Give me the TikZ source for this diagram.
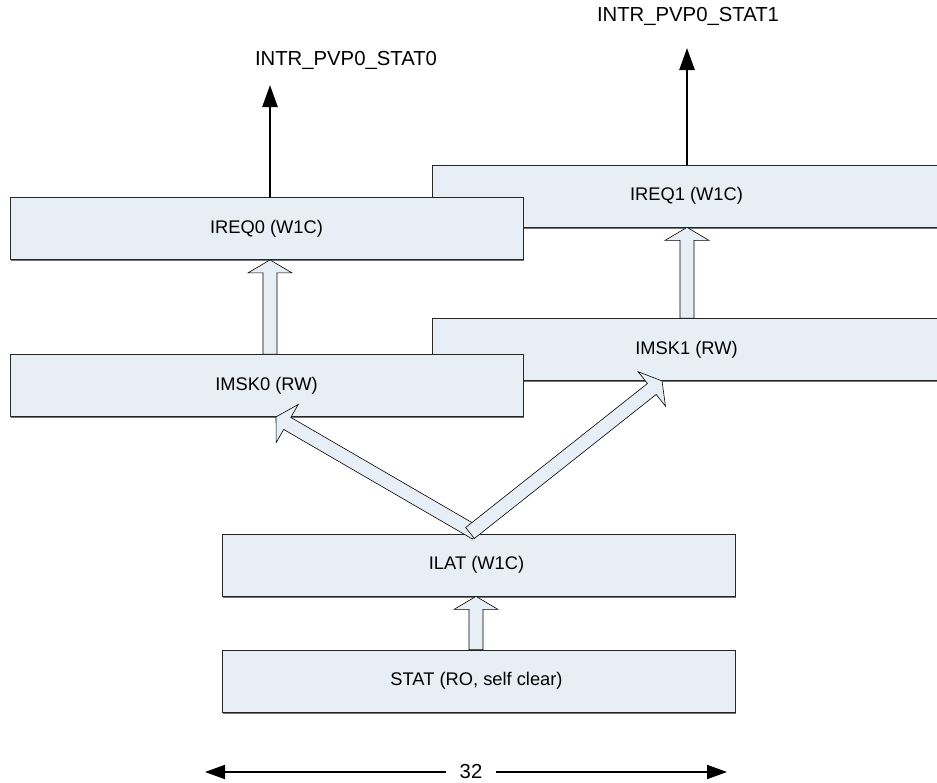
\documentclass[tikz,border=0pt]{standalone}
\usepackage{fontspec}
\setmainfont{Liberation Sans}
\usepackage{tikz}
\usetikzlibrary{calc,shadows,arrows.meta}

\definecolor{regfill}{RGB}{232,238,246}

% hollow block arrow from #1 to tip #2
\newcommand{\fatarrow}[2]{%
  \coordinate (fa-h) at ($(#2)!13pt!(#1)$);
  \draw[fat arrow] ($(#1)!7pt!90:(#2)$) -- ($(fa-h)!7pt!90:(#2)$) -- ($(fa-h)!22pt!90:(#2)$) -- (#2)
    -- ($(fa-h)!22pt!-90:(#2)$) -- ($(fa-h)!7pt!-90:(#2)$) -- ($(#1)!7pt!-90:(#2)$) -- cycle;}

\begin{document}
\begin{tikzpicture}
 [x=1pt,y=-1pt,
  reg node/.style={draw=black!85, line width=0.8pt, fill=regfill, minimum width=513pt, minimum height=62pt,
    inner sep=0pt, font=\fontsize{18.3}{21}\selectfont,
    drop shadow={shadow xshift=1pt, shadow yshift=-1.6pt, fill=black!55, opacity=1}},
  fat arrow/.style={draw=black, line width=0.6pt, fill=regfill, line join=miter},
  out arrow/.style={-{Triangle[length=22pt,width=15pt]}, line width=2.5pt},
  label text/.style={font=\fontsize{20.3}{24}\selectfont}]

 \useasboundingbox (0,0) rectangle (937,782);

 % right column first, the left one overlaps it
 \node[reg node] (ireq1) at (688.5,196) {\hspace*{-4pt}IREQ1 (W1C)};
 \node[reg node] (imsk1) at (688.5,349.5) {\hspace*{-4pt}IMSK1 (RW)};
 \node[reg node] (ireq0) at (266.5,228.5) {IREQ0 (W1C)};
 \node[reg node] (imsk0) at (266.5,385.5) {IMSK0 (RW)};
 \node[reg node] (ilat) at (478.5,565) {\hspace*{-4pt}ILAT (W1C)};
 \node[reg node] (stat) at (478.5,681) {\hspace*{-4pt}STAT (RO, self clear)};

 \node[label text] (out0) at (346,60) {INTR\_PVP0\_STAT0};
 \node[label text] (out1) at (688,16) {INTR\_PVP0\_STAT1};

 \coordinate (tip0) at (270,85);
 \coordinate (tip1) at (687,48);
 \draw[out arrow] (ireq0.north -| tip0) -- (tip0);
 \draw[out arrow] (ireq1.north -| tip1) -- (tip1);

 \fatarrow{stat.north -| 476,0}{ilat.south -| 476,0}
 \fatarrow{imsk0.north -| 270,0}{ireq0.south -| 270,0}
 \fatarrow{imsk1.north -| 687,0}{ireq1.south -| 687,0}
 \fatarrow{476,533}{imsk0.south -| 276,0}
 \fatarrow{470,533}{imsk1.south -| 662,0}

 % width
 \coordinate (wl) at (205,772);
 \coordinate (wr) at (727,772);
 \node[label text, fill=white, inner xsep=14pt, inner ysep=1pt] (width) at (471,772) {32};
 \draw[-{Triangle[length=20pt,width=14pt]}, line width=1.8pt] (width.west) -- (wl);
 \draw[-{Triangle[length=20pt,width=14pt]}, line width=1.8pt] (width.east) -- (wr);
\end{tikzpicture}
\end{document}
